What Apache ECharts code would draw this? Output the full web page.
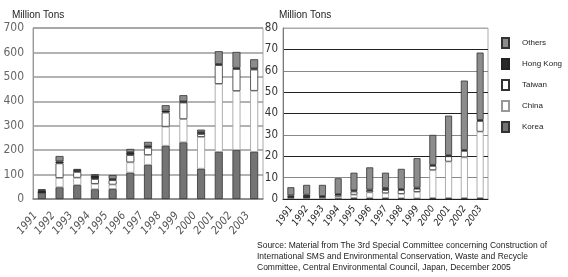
<!doctype html>
<html>
<head>
<meta charset="utf-8">
<title></title>
<script src="https://cdn.jsdelivr.net/npm/echarts@6/dist/echarts.min.js"></script>
<style>
html, body { margin: 0; padding: 0; background: #fff; }
#chart { width: 568px; height: 277px; }
</style>
</head>
<body>
<div id="chart"></div>
<script>
var years = ['1991','1992','1993','1994','1995','1996','1997','1998','1999','2000','2001','2002','2003'];
var seriesNames = ['Korea', 'China', 'Taiwan', 'Hong Kong', 'Others'];
var legendOrder = ['Others', 'Hong Kong', 'Taiwan', 'China', 'Korea'];

// left chart (0-700)
var leftKorea    = [26, 48, 57, 40, 41, 108, 140, 218, 232, 124, 193, 200, 193];
var leftChina    = [0, 38, 30, 22, 18, 42, 40, 78, 95, 130, 278, 242, 250];
var leftTaiwan   = [0, 60, 24, 20, 18, 30, 30, 58, 68, 12, 77, 90, 87];
var leftHongKong = [10, 8, 8, 14, 5, 12, 8, 8, 5, 8, 5, 5, 5];
var leftOthers   = [4, 22, 4, 5, 16, 13, 16, 22, 25, 10, 52, 65, 37];

// right chart (0-80)
var rightKorea    = [0.3, 0.3, 0.2, 0.3, 0.5, 0.6, 0.5, 0.4, 0.3, 0.5, 0.5, 0.5, 0.5];
var rightChina    = [0.3, 0.3, 0.5, 0.8, 1.5, 2.5, 2.2, 2.0, 3.0, 13, 17, 19, 31];
var rightTaiwan   = [0.3, 0.2, 0.3, 0.8, 1.5, 0.8, 1.5, 1.8, 1.5, 2, 2.5, 3, 5];
var rightHongKong = [0.8, 1.2, 0.4, 0.4, 0.6, 0.5, 1.0, 0.5, 0.5, 0.5, 0.5, 0.5, 0.5];
var rightOthers   = [3.8, 4.6, 5.2, 7.4, 8.2, 10.4, 7.1, 9.4, 13.8, 14, 18.5, 32.4, 31.5];

var leftTicks = [0, 100, 200, 300, 400, 500, 600, 700];
var rightTicks = [0, 10, 20, 30, 40, 50, 60, 70, 80];

var narrow = '"Liberation Sans Narrow", "DejaVu Sans Condensed", "Arial Narrow", sans-serif';
var fills = {
    'Korea':     {color: '#747474', borderColor: '#333'},
    'China':     {color: '#ffffff', borderColor: '#999'},
    'Taiwan':    {color: '#ffffff', borderColor: '#333'},
    'Hong Kong': {color: '#2a2a2a', borderColor: '#222'},
    'Others':    {color: '#8c8c8c', borderColor: '#333'}
};
var leftData = [leftKorea, leftChina, leftTaiwan, leftHongKong, leftOthers];
var rightData = [rightKorea, rightChina, rightTaiwan, rightHongKong, rightOthers];

var series = [];
seriesNames.forEach(function(n, i){
    series.push({
        type: 'bar', name: n, stack: 'L', xAxisIndex: 0, yAxisIndex: 0,
        barWidth: 8, data: leftData[i],
        itemStyle: {color: fills[n].color, borderColor: fills[n].borderColor, borderWidth: 0.8}
    });
});
seriesNames.forEach(function(n, i){
    series.push({
        type: 'bar', name: n, stack: 'R', xAxisIndex: 1, yAxisIndex: 1,
        barWidth: 7, data: rightData[i],
        itemStyle: {color: fills[n].color, borderColor: fills[n].borderColor, borderWidth: 0.8}
    });
});

var chart = echarts.init(document.getElementById('chart'));
chart.setOption({
    animation: false,
    textStyle: {fontFamily: 'Liberation Sans, Arial, sans-serif'},
    title: [
        {text: 'Million Tons', left: 12, top: 10, padding: 0, textStyle: {fontSize: 10, fontWeight: 'normal', color: '#222'}},
        {text: 'Million Tons', left: 279, top: 10, padding: 0, textStyle: {fontSize: 10, fontWeight: 'normal', color: '#222'}},
        {text: 'Source: Material from The 3rd Special Committee concerning Construction of\nInternational SMS and Environmental Conservation, Waste and Recycle\nCommittee, Central Environmental Council, Japan, December 2005',
         left: 257, top: 240, padding: 0, textStyle: {fontSize: 8.5, fontWeight: 'normal', color: '#222', lineHeight: 11}}
    ],
    legend: {
        data: legendOrder, orient: 'vertical', left: 501, top: 37, padding: 0,
        icon: 'rect', itemWidth: 7, itemHeight: 10, itemGap: 9,
        textStyle: {fontSize: 8, color: '#222', padding: [0, 0, 0, 8]}
    },
    grid: [
        {left: 33, right: 305, top: 28, bottom: 78, show: true, borderColor: '#aaa', borderWidth: 1},
        {left: 283, right: 80, top: 28, bottom: 78, show: true, borderColor: '#aaa', borderWidth: 1}
    ],
    xAxis: [
        {type: 'category', gridIndex: 0, data: years,
         axisLine: {lineStyle: {color: '#888', width: 1.5}},
         axisTick: {inside: true, length: 3, lineStyle: {color: '#bbb'}},
         axisLabel: {rotate: 50, fontSize: 11, fontStyle: 'italic', fontFamily: narrow, color: '#555', margin: 7, interval: 0, padding: [0, 10, 0, 0]}},
        {type: 'category', gridIndex: 1, data: years,
         axisLine: {lineStyle: {color: '#222', width: 1}},
         axisTick: {inside: true, length: 5, lineStyle: {color: '#444'}},
         axisLabel: {rotate: 55, fontSize: 9.5, fontStyle: 'italic', fontFamily: narrow, color: '#222', margin: 8, interval: 0}}
    ],
    yAxis: [
        {type: 'value', gridIndex: 0, min: leftTicks[0], max: leftTicks[leftTicks.length - 1], interval: 100,
         axisLine: {show: true, lineStyle: {color: '#999'}},
         axisTick: {show: false},
         axisLabel: {fontSize: 12, fontFamily: narrow, color: '#666', margin: 9},
         splitLine: {lineStyle: {color: '#9a9a9a', width: 1.5}}},
        {type: 'value', gridIndex: 1, min: rightTicks[0], max: rightTicks[rightTicks.length - 1], interval: 10,
         axisLine: {show: true, lineStyle: {color: '#777'}},
         axisTick: {show: false},
         axisLabel: {fontSize: 11.5, fontFamily: narrow, color: '#333', margin: 5},
         splitLine: {lineStyle: {color: ['#333', '#888', '#222', '#888', '#222', '#222', '#888', '#222', '#aaa'], width: 1.2}}}
    ],
    series: series
});
</script>
</body>
</html>
